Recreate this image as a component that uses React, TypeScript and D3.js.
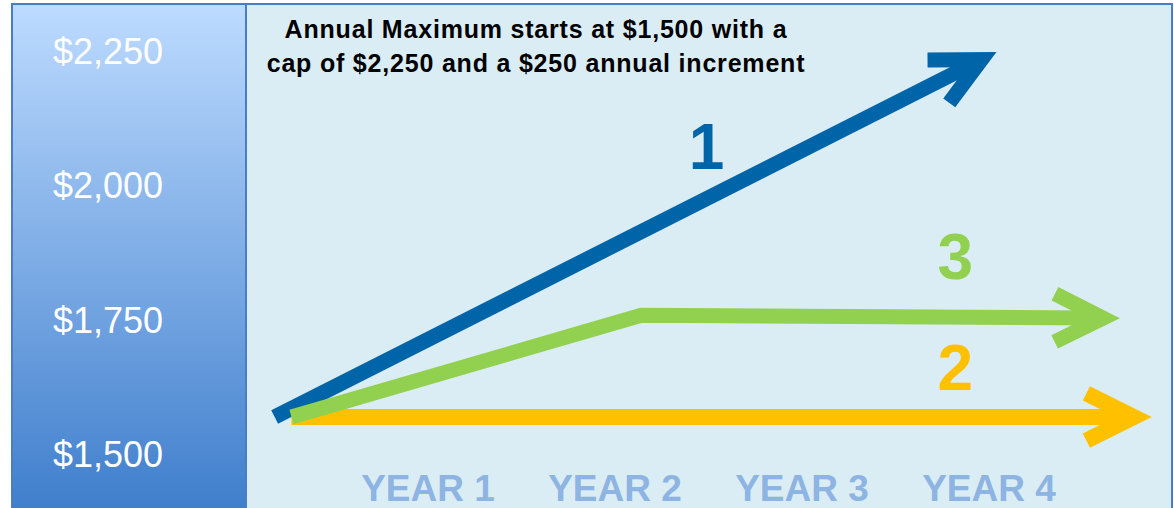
import React from "react";
import * as d3 from "d3";

const W = 1174;
const H = 508;

const yTickValues = [1500, 1750, 2000, 2250];
const yearLabels = ["YEAR 1", "YEAR 2", "YEAR 3", "YEAR 4"];
const yearValues = [1, 2, 3, 4];

const titleLines = [
  "Annual Maximum starts at $1,500 with a",
  "cap of $2,250 and a $250 annual increment",
];

// Scenario arrows (x in years, y in dollars)
const blueX = [0.18, 4.04];
const blueY = [1500, 2250];
const greenX = [0.27, 2.14, 4.7];
const greenY = [1500, 1709, 1703];
const yellowX = [0.27, 4.87];
const yellowY = [1500, 1500];

const scenarioLabels = ["1", "2", "3"];
const labelX = [2.49, 3.82, 3.82];
const labelY = [2010, 1555, 1784];

const FONT = "'Liberation Sans', Arial, Helvetica, sans-serif";

const BLUE = "#0064A8";
const GREEN = "#92D050";
const YELLOW = "#FFC000";

export default function App() {
  const x = d3.scaleLinear().domain([1, 4]).range([428, 989]);
  const yLabel = d3.scaleLinear().domain([1500, 2250]).range([454, 51]);
  const yArrow = d3.scaleLinear().domain([1500, 2250]).range([417, 52]);

  const fmt = (v: number) => "$" + d3.format(",")(v);

  const L = 69;
  const theta = (26.5 * Math.PI) / 180;

  function arrow(xs: number[], ys: number[], color: string, sw: number, t: number) {
    const pts: [number, number][] = xs.map((xv, i) => [x(xv), yArrow(ys[i])]);
    const n = pts.length;
    const T = pts[n - 1];
    const P = pts[n - 2];
    const len = Math.hypot(T[0] - P[0], T[1] - P[1]);
    const d: [number, number] = [(T[0] - P[0]) / len, (T[1] - P[1]) / len];
    const nn: [number, number] = [-d[1], d[0]];
    const a = L * Math.cos(theta);
    const b = L * Math.sin(theta);
    const A1: [number, number] = [T[0] - a * d[0] + b * nn[0], T[1] - a * d[1] + b * nn[1]];
    const A2: [number, number] = [T[0] - a * d[0] - b * nn[0], T[1] - a * d[1] - b * nn[1]];
    const u1 = [(A1[0] - T[0]) / L, (A1[1] - T[1]) / L];
    const u2 = [(A2[0] - T[0]) / L, (A2[1] - T[1]) / L];
    let v1 = [-u1[1], u1[0]];
    if (v1[0] * nn[0] + v1[1] * nn[1] > 0) v1 = [-v1[0], -v1[1]];
    let v2 = [-u2[1], u2[0]];
    if (v2[0] * nn[0] + v2[1] * nn[1] < 0) v2 = [-v2[0], -v2[1]];
    const A1i = [A1[0] + t * v1[0], A1[1] + t * v1[1]];
    const A2i = [A2[0] + t * v2[0], A2[1] + t * v2[1]];
    const c = t / Math.sin(theta);
    const N = [T[0] - c * d[0], T[1] - c * d[1]];
    const head = `M${T[0]},${T[1]}L${A1[0]},${A1[1]}L${A1i[0]},${A1i[1]}L${N[0]},${N[1]}L${A2i[0]},${A2i[1]}L${A2[0]},${A2[1]}Z`;
    const shaftPts: [number, number][] = pts.slice(0, n - 1);
    shaftPts.push([N[0] + 4 * d[0], N[1] + 4 * d[1]]);
    const line = d3.line<[number, number]>().x((p) => p[0]).y((p) => p[1]);
    return (
      <g>
        <path
          d={line(shaftPts) || ""}
          fill="none"
          stroke={color}
          strokeWidth={sw}
          strokeLinejoin="miter"
          strokeLinecap="butt"
        />
        <path d={head} fill={color} />
      </g>
    );
  }

  const labelColors = [BLUE, YELLOW, GREEN];

  return (
    <svg
      width={W}
      height={H}
      style={{ position: "absolute", left: 0, top: 0, display: "block" }}
      xmlns="http://www.w3.org/2000/svg"
    >
      <defs>
        <linearGradient id="leftGrad" x1="0" y1="0" x2="0" y2="1">
          <stop offset="0%" stopColor="#BDDBFF" />
          <stop offset="100%" stopColor="#3F7ECC" />
        </linearGradient>
      </defs>
      <rect x={0} y={0} width={W} height={H} fill="#ffffff" />
      <rect x={246} y={4} width={926} height={H} fill="#DBEDF4" />
      <rect x={12} y={4} width={234} height={H} fill="url(#leftGrad)" />
      <rect x={12} y={4} width={1160} height={H + 10} fill="none" stroke="#4A7EC4" strokeWidth={2} />
      <line x1={246} y1={4} x2={246} y2={H} stroke="#4A7EC4" strokeWidth={2} />

      {yTickValues.map((v) => (
        <text
          key={v}
          x={108}
          y={yLabel(v)}
          dy="0.36em"
          textAnchor="middle"
          fontFamily={FONT}
          fontSize={36}
          fill="#ffffff"
        >
          {fmt(v)}
        </text>
      ))}

      {yearLabels.map((lab, i) => (
        <text
          key={lab}
          x={x(yearValues[i])}
          y={501}
          textAnchor="middle"
          fontFamily={FONT}
          fontSize={37}
          fontWeight="bold"
          fill="#8DB4E2"
        >
          {lab}
        </text>
      ))}

      {titleLines.map((t, i) => (
        <text
          key={i}
          x={536}
          y={38 + i * 34}
          textAnchor="middle"
          fontFamily={FONT}
          fontSize={25}
          fontWeight="bold"
          letterSpacing={0.8}
          fill="#000000"
        >
          {t}
        </text>
      ))}

      {arrow(blueX, blueY, BLUE, 15, 15)}
      {arrow(yellowX, yellowY, YELLOW, 16, 16)}
      {arrow(greenX, greenY, GREEN, 15, 15)}

      {scenarioLabels.map((s, i) => (
        <text
          key={s}
          x={x(labelX[i])}
          y={yArrow(labelY[i])}
          textAnchor="middle"
          fontFamily={FONT}
          fontSize={64}
          fontWeight="bold"
          fill={labelColors[i]}
        >
          {s}
        </text>
      ))}
    </svg>
  );
}
